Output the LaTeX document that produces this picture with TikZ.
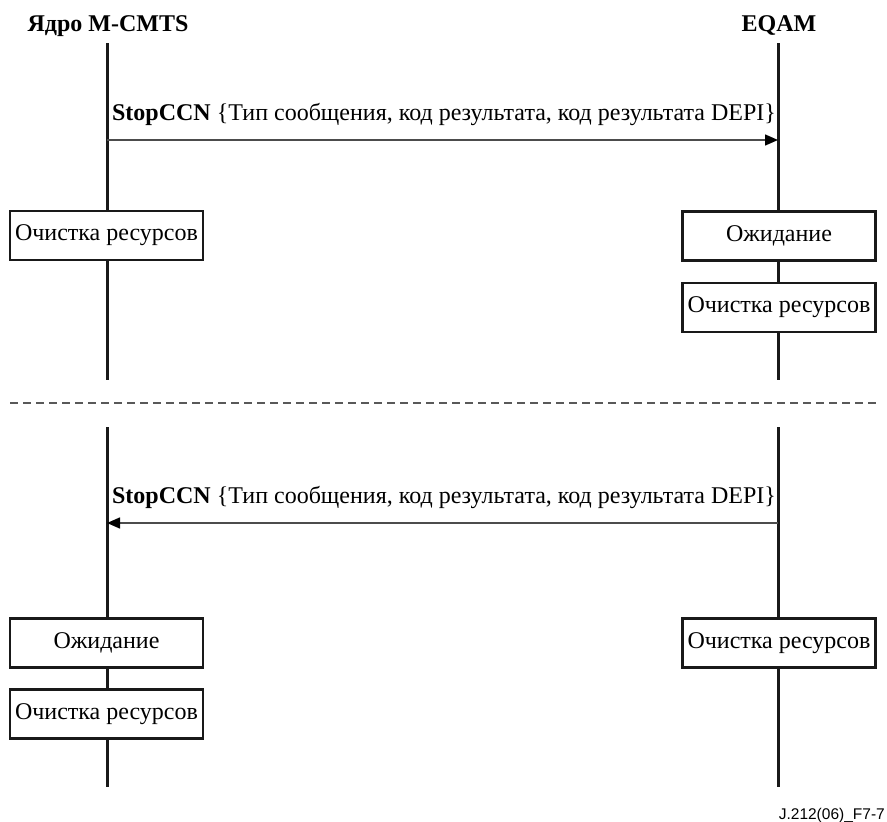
\documentclass[tikz,border=0pt]{standalone}
\usepackage{fontspec}
\setmainfont{Liberation Serif}
\newfontfamily\codefont{Liberation Sans}
\usetikzlibrary{arrows.meta}
\begin{document}
\begin{tikzpicture}[x=1pt,y=-1pt,
  lifeline/.style={line width=3pt, draw=black!90},
  statebox/.style={draw=black!90, line width=2.5pt, fill=white,
    minimum width=193pt, minimum height=49pt, inner sep=0pt,
    font=\fontsize{24}{28}\selectfont},
  msg/.style={line width=1.5pt, draw=black!70,
    -{Triangle[length=13pt,width=11pt,color=black]}},
  msglabel/.style={anchor=base, inner sep=0pt,
    font=\fontsize{24}{28}\selectfont},
  actor/.style={anchor=base, inner sep=0pt,
    font=\fontsize{24}{28}\selectfont\bfseries},
  separator/.style={draw=black!65, line width=2pt, dash pattern=on 8pt off 5pt},
  figcode/.style={anchor=base east, inner sep=0pt,
    font=\codefont\fontsize{15.5}{18}\selectfont},
]
\useasboundingbox (0,0) rectangle (887,822);

% participants
\node[actor] (core) at (108,31) {Ядро M-CMTS};
\node[actor] (eqam) at (779,31) {EQAM};

% lifeline end points
\coordinate (coreTopA) at (107,43);
\coordinate (coreBotA) at (107,380);
\coordinate (eqamTopA) at (778,43);
\coordinate (eqamBotA) at (778,380);
\coordinate (coreTopB) at (107,427);
\coordinate (coreBotB) at (107,787);
\coordinate (eqamTopB) at (778,427);
\coordinate (eqamBotB) at (778,787);

\draw[lifeline] (coreTopA) -- (coreBotA);
\draw[lifeline] (eqamTopA) -- (eqamBotA);
\draw[lifeline] (coreTopB) -- (coreBotB);
\draw[lifeline] (eqamTopB) -- (eqamBotB);

% first scenario: core sends StopCCN
\coordinate (m1from) at (107,140);
\coordinate (m1to) at (778,140);
\draw[msg] (m1from) -- (m1to);
\node[msglabel] (m1label) at (444,120)
  {\textbf{StopCCN} \{Тип сообщения, код результата, код результата DEPI\}};

\node[statebox] (coreClean1) at (106.5,235.5) {Очистка ресурсов};
\node[statebox] (eqamWait1) at (779,236) {Ожидание};
\node[statebox] (eqamClean1) at (779,307.5) {Очистка ресурсов};

% separator between scenarios
\coordinate (sepL) at (10,403);
\coordinate (sepR) at (876,403);
\draw[separator] (sepL) -- (sepR);

% second scenario: EQAM sends StopCCN
\coordinate (m2from) at (778,523);
\coordinate (m2to) at (107,523);
\draw[msg] (m2from) -- (m2to);
\node[msglabel] (m2label) at (444,503)
  {\textbf{StopCCN} \{Тип сообщения, код результата, код результата DEPI\}};

\node[statebox] (coreWait2) at (106.5,643) {Ожидание};
\node[statebox] (coreClean2) at (106.5,714) {Очистка ресурсов};
\node[statebox] (eqamClean2) at (779,643) {Очистка ресурсов};

% figure reference
\node[figcode] (code) at (885,819) {J.212(06)\_F7-7};
\end{tikzpicture}
\end{document}
